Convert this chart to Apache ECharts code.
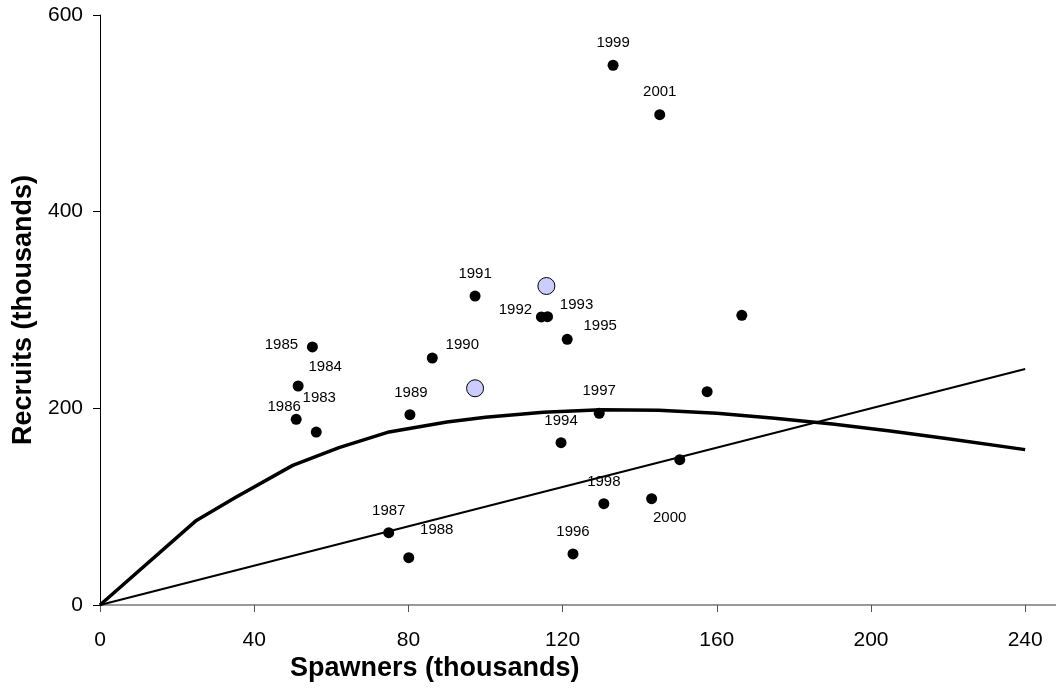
<!DOCTYPE html>
<html>
<head>
<meta charset="utf-8">
<script src="https://cdn.jsdelivr.net/npm/echarts@6/dist/echarts.min.js"></script>
<style>
  html, body { margin: 0; padding: 0; background: #fff; }
  #chart { width: 1056px; height: 689px; }
</style>
</head>
<body>
<div id="chart"></div>
<script>
// observed stock-recruit pairs
const years = ['1983', '1984', '1985', '1986', '1987', '1988', '1989', '1990', '1991', '1992',
  '1993', '1994', '1995', '1996', '1997', '1998', '1999', '2000', '2001', '', '', ''];
const spawners = [56.1, 51.4, 55.1, 50.9, 74.9, 80.1, 80.4, 86.2, 97.3, 114.5,
  116.1, 119.6, 121.2, 122.7, 129.5, 130.7, 133.1, 143.1, 145.2, 150.4, 157.5, 166.5];
const recruits = [175.9, 222.7, 262.4, 188.8, 73.5, 48.1, 193.5, 251.2, 314.2, 292.9,
  293.2, 165.1, 270.2, 51.9, 195.0, 103.0, 548.9, 108.1, 498.6, 147.8, 216.9, 294.6];

// highlighted (open blue) points
const highlightS = [97.3, 115.8];
const highlightR = [220.4, 324.4];

// fitted stock-recruit curve
const curveS = [0, 25, 35, 50, 62, 75, 90, 100, 115, 130, 145, 160, 175, 190, 205, 220, 240];
const curveR = [0, 86, 109, 142, 160, 176, 186, 191, 196, 198.5, 198, 195, 190, 184, 177, 169, 158];

// replacement line
const lineS = [0, 240];
const lineR = [0, 240];

const xTicks = [0, 40, 80, 120, 160, 200, 240];
const yTicks = [0, 200, 400, 600];

// label offsets (px) per year
const labelOffsets = {
  '1983': [3, -34], '1984': [27, -19], '1985': [-31, -2], '1986': [-12, -12],
  '1987': [0, -22], '1988': [28, -28], '1989': [1, -22], '1990': [30, -13],
  '1991': [0, -22], '1992': [-26, -7], '1993': [29, -12], '1994': [0, -22],
  '1995': [33, -13], '1996': [0, -22], '1997': [0, -22], '1998': [0, -22],
  '1999': [0, -22], '2000': [18, 19], '2001': [0, -23]
};

const font = '"Liberation Sans", Arial, sans-serif';

const pointData = spawners.map((s, i) => {
  const y = years[i];
  const off = labelOffsets[y] || [0, 0];
  return {
    name: y,
    value: [s, recruits[i]],
    label: { show: !!y, position: 'inside', offset: off }
  };
});

const chart = echarts.init(document.getElementById('chart'));
chart.setOption({
  animation: false,
  textStyle: { fontFamily: font },
  grid: { left: 100, right: 0, top: 15, bottom: 84 },
  title: {
    text: 'Spawners (thousands)',
    left: 290,
    top: 655,
    padding: 0,
    textStyle: { fontFamily: font, fontSize: 27, fontWeight: 'bold', color: '#000' }
  },
  xAxis: [{
    type: 'value',
    min: 0,
    max: 248,
    interval: 40,
    splitLine: { show: false },
    axisLine: { show: true, onZero: false, lineStyle: { color: '#555', width: 1 } },
    axisTick: { show: true, length: 7, lineStyle: { color: '#555' } },
    axisLabel: {
      margin: 25, fontSize: 21, color: '#000', fontFamily: font,
      showMaxLabel: false,
      formatter: (v) => xTicks.includes(v) ? String(v) : ''
    }
  }, {
    type: 'value',
    position: 'top',
    min: 0,
    max: 248,
    splitLine: { show: false },
    axisLine: { show: true, lineStyle: { color: '#999', width: 2 } },
    axisTick: { show: false },
    axisLabel: { show: false }
  }],
  yAxis: {
    type: 'value',
    min: 0,
    max: 600,
    interval: 200,
    name: 'Recruits (thousands)',
    nameLocation: 'middle',
    nameGap: 60,
    nameTextStyle: { fontSize: 27, fontWeight: 'bold', color: '#000', fontFamily: font },
    splitLine: { show: false },
    axisLine: { show: true, lineStyle: { color: '#000', width: 1 } },
    axisTick: { show: true, length: 7, lineStyle: { color: '#000' } },
    axisLabel: {
      margin: 17, fontSize: 21, color: '#000', fontFamily: font,
      formatter: (v) => yTicks.includes(v) ? String(v) : ''
    }
  },
  series: [{
    type: 'line',
    data: lineS.map((s, i) => [s, lineR[i]]),
    symbol: 'none',
    lineStyle: { color: '#000', width: 2 },
    z: 2
  }, {
    type: 'line',
    data: curveS.map((s, i) => [s, curveR[i]]),
    symbol: 'none',
    lineStyle: { color: '#000', width: 3.5, join: 'round' },
    z: 2
  }, {
    type: 'scatter',
    data: pointData,
    symbol: 'circle',
    symbolSize: 11,
    itemStyle: { color: '#000', opacity: 1 },
    label: {
      formatter: '{b}',
      fontSize: 15,
      color: '#000',
      opacity: 1,
      fontFamily: font
    },
    z: 3
  }, {
    type: 'scatter',
    data: highlightS.map((s, i) => [s, highlightR[i]]),
    symbol: 'circle',
    symbolSize: 17,
    itemStyle: { color: '#ccccff', borderColor: '#000', borderWidth: 1, opacity: 1 },
    z: 3
  }]
});
</script>
</body>
</html>
